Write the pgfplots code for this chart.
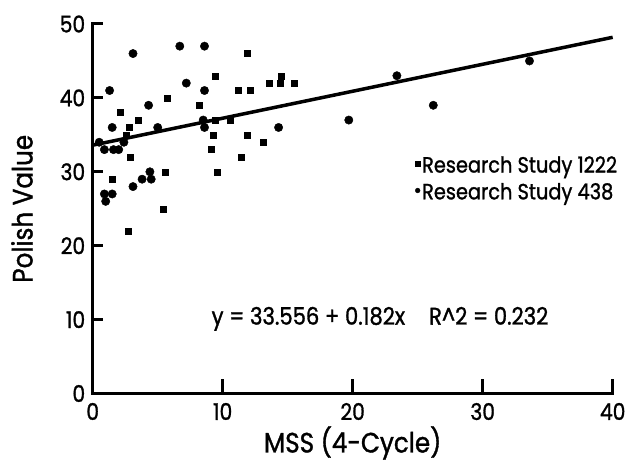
\documentclass[border=0pt]{standalone}
\usepackage{pgfplots}
\pgfplotsset{compat=1.18}
\usetikzlibrary{calc}
\usepackage{fontspec}
\setmainfont{Poppins}[FakeStretch=0.88,FakeBold=1.2]
\begin{document}
\begin{tikzpicture}
\begin{axis}[
  name=ax,
  scale only axis,
  width=520pt, height=369.5pt,
  xmin=0, xmax=40, ymin=0, ymax=50,
  axis lines=left,
  clip=false,
  xtick={0,10,20,30,40},
  ytick={0,10,20,30,40,50},
  tick align=inside,
  major tick length=0pt,
  axis line style={line width=3.5pt, line cap=rect, -},
  /pgf/number format/assume math mode=true,
  ticklabel style={font=\fontsize{23}{23}\selectfont},
  xticklabel style={yshift=-6pt},
  yticklabel style={xshift=-4pt},
  xlabel={MSS (4-Cycle)},
  ylabel={Polish Value},
  every axis x label/.style={at={(rel axis cs:0.5,-0.134)}, anchor=center, font=\fontsize{28}{28}\selectfont},
  every axis y label/.style={at={(rel axis cs:-0.136,0.5)}, rotate=90, anchor=center, font=\fontsize{28}{28}\selectfont},
  legend cell align=left,
  legend style={draw=none, fill=none, at={(0.62,0.648)}, anchor=north west,
    font=\fontsize{22}{22}\selectfont, row sep=5pt, inner sep=0pt},
  legend image code/.code={\draw[#1,mark size=2.4pt] plot coordinates {(0.05cm,0.05cm)};},
]
% Research Study 1222 (squares)
\addplot[only marks, mark=square*, mark size=3pt, black] coordinates {
(9.4,43) (5.7,40) (8.2,39) (2.1,38) (3.5,37) (2.8,36) (9.3,35) (2.6,35)
(9.1,33) (2.9,32) (1.5,29) (5.6,30) (9.6,30) (5.4,25) (2.7,22) (11.9,46)
(14.5,43) (11.2,41) (12.1,41) (13.6,42) (14.4,42) (15.5,42) (9.4,37)
(10.6,37) (11.9,35) (13.1,34) (11.4,32)
};
\addlegendentry{Research Study 1222}
% Research Study 438 (circles)
\addplot[only marks, mark=*, mark size=4.2pt, black] coordinates {
(3.1,46) (6.7,47) (8.6,47) (1.3,41) (7.2,42) (8.6,41) (4.3,39) (1.5,36)
(5.0,36) (8.5,37) (8.6,36) (0.5,34) (0.9,33) (1.6,33) (2.0,33) (2.4,34)
(4.4,30) (4.5,29) (3.8,29) (3.1,28) (0.9,27) (1.5,27) (1.0,26)
(14.3,36) (19.7,37) (23.4,43) (26.2,39) (33.6,45)
};
\addlegendentry{Research Study 438}
\addplot[line width=3.5pt, black, no markers, forget plot] coordinates {(0,33.6) (40,48.2)};
% tick marks
\addplot[line width=3pt, black, no markers, forget plot] coordinates {(10,0) (10,2)};
\addplot[line width=3pt, black, no markers, forget plot] coordinates {(20,0) (20,2)};
\addplot[line width=3pt, black, no markers, forget plot] coordinates {(30,0) (30,2)};
\addplot[line width=3pt, black, no markers, forget plot] coordinates {(40,0) (40,2)};
\addplot[line width=3pt, black, no markers, forget plot] coordinates {(0,10) (0.8,10)};
\addplot[line width=3pt, black, no markers, forget plot] coordinates {(0,20) (0.8,20)};
\addplot[line width=3pt, black, no markers, forget plot] coordinates {(0,30) (0.8,30)};
\addplot[line width=3pt, black, no markers, forget plot] coordinates {(0,40) (0.8,40)};
\addplot[line width=3pt, black, no markers, forget plot] coordinates {(0,50) (0.8,50)};
\node[font=\fontsize{24}{24}\selectfont] at (axis cs:22.1,10.1) {y = 33.556 + 0.182x\quad R\^{}2 = 0.232};
\end{axis}
\pgfresetboundingbox
\path[use as bounding box] ($(ax.south west)+(-92.7pt,-71.5pt)$) rectangle ++(627pt,465pt);
\end{tikzpicture}
\end{document}
